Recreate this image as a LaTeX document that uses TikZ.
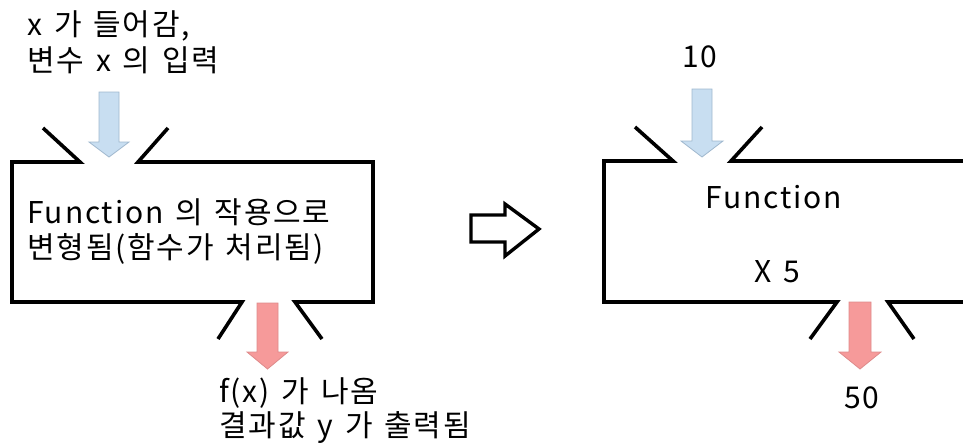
\documentclass[tikz,border=0pt]{standalone}
\usepackage{fontspec}
\setmainfont{Noto Sans CJK KR}[LetterSpace=6,WordSpace=1.4]
\definecolor{inblue}{HTML}{C8DEF1}
\definecolor{inblueedge}{HTML}{A0B8CE}
\definecolor{outred}{HTML}{F69A9A}
\definecolor{outrededge}{HTML}{DE8A8A}
\begin{document}
\begin{tikzpicture}[x=1pt,y=-1pt,
  frame/.style={line width=3.6pt, line join=miter, line cap=butt},
  inarrow/.style={fill=inblue, draw=inblueedge, line width=0.8pt},
  outarrow/.style={fill=outred, draw=outrededge, line width=0.8pt},
  hollow/.style={draw=black, line width=3.4pt, line join=miter},
  lbl/.style={font=\fontsize{30}{34}\selectfont, inner sep=0pt, anchor=base west},
  num/.style={font=\fontsize{30}{34}\selectfont, inner sep=0pt, anchor=base}]
\useasboundingbox (0,0) rectangle (963,442);
\clip (0,0) rectangle (963,442);
% left function box
\draw[frame] (43,128) -- (80,162) -- (12,162) -- (12,302) -- (242,302) -- (218,339);
\draw[frame] (168,128) -- (138,162) -- (373,162) -- (373,302) -- (295,302) -- (322,339);
\draw[inarrow] (99,92) -- (119,92) -- (119,142) -- (129,142) -- (109,157) -- (89,142) -- (99,142) -- cycle;
\draw[outarrow] (257,303) -- (278,303) -- (278,352) -- (288,352) -- (267.5,369) -- (247,352) -- (257,352) -- cycle;
\node[lbl] (t1) at (27,35) {x 가 들어감,};
\node[lbl] (t2) at (27,71) {변수 x 의 입력};
\node[lbl] (t3) at (27,223) {Function 의 작용으로};
\node[lbl] (t4) at (27,258) {변형됨(함수가 처리됨)};
\node[lbl] (t5) at (219,402) {f(x) 가 나옴};
\node[lbl] (t6) at (219,436) {결과값 y 가 출력됨};
% hollow arrow
\draw[hollow] (471,215) -- (505,215) -- (505,204) -- (539,229) -- (505,256) -- (505,242) -- (471,242) -- cycle;
% right function box
\draw[frame] (635,127) -- (673,161) -- (604,161) -- (604,302) -- (837,302) -- (810,339);
\draw[frame] (762,127) -- (731,161) -- (975,161);
\draw[frame] (975,302) -- (888,302) -- (914,339);
\draw[inarrow] (692,89) -- (712,89) -- (712,141) -- (723,141) -- (702,157) -- (681,141) -- (692,141) -- cycle;
\draw[outarrow] (849,302) -- (871,302) -- (871,352) -- (881,352) -- (860,369) -- (839,352) -- (849,352) -- cycle;
\node[num] (n10) at (700,67) {10};
\node[num] (fn) at (774,208) {Function};
\node[num] (x5) at (777,282) {X 5};
\node[num] (n50) at (862,408) {50};
\end{tikzpicture}
\end{document}
